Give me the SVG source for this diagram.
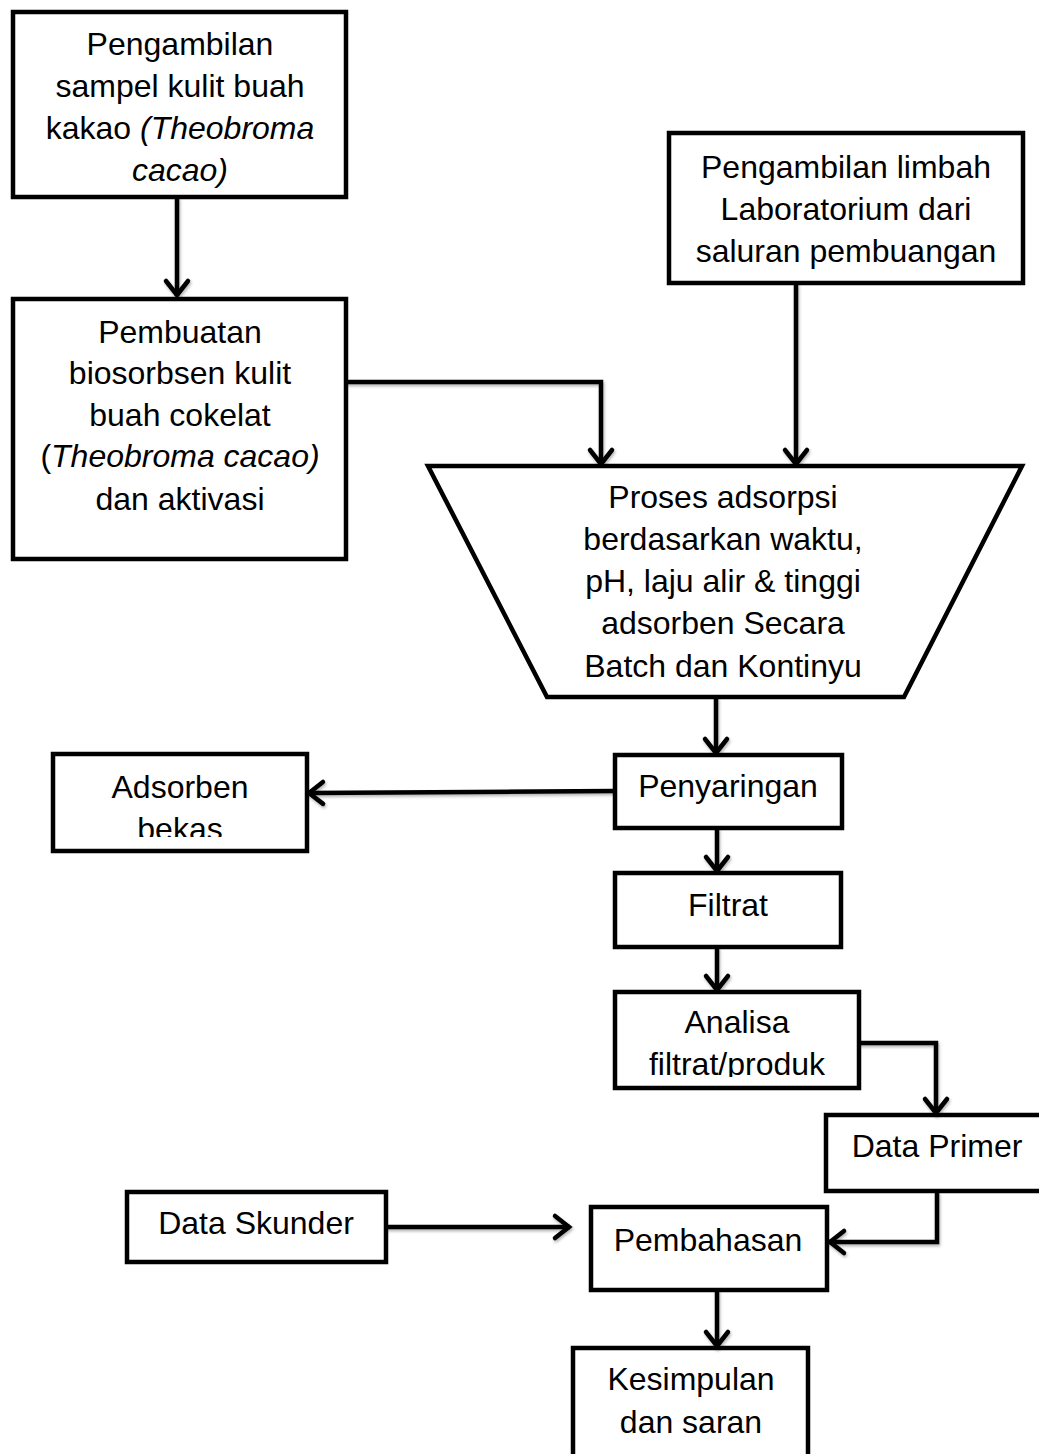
<svg xmlns="http://www.w3.org/2000/svg" width="1039" height="1454" viewBox="0 0 1039 1454">
<style>
.box{fill:#fff;stroke:#000;stroke-width:4.5;stroke-linejoin:miter}
.t{font-family:"Liberation Sans",Arial,sans-serif;font-size:32px;fill:#000;text-anchor:middle}
.i{font-style:italic}
.c{fill:none;stroke:#000;stroke-width:4.5;stroke-linejoin:miter;marker-end:url(#ah)}
.cn{fill:none;stroke:#000;stroke-width:4.5}
</style>
<defs>
<marker id="ah" markerUnits="userSpaceOnUse" viewBox="-20 -14 24 28" markerWidth="24" markerHeight="28" refX="0" refY="0" orient="auto" overflow="visible">
<path d="M-15,-11 L-1,0 L-15,11" fill="none" stroke="#000" stroke-width="4.5" stroke-linejoin="miter" stroke-linecap="round"/>
</marker>
<filter id="sh" x="-10%" y="-10%" width="130%" height="130%">
<feDropShadow dx="1" dy="2" stdDeviation="1.5" flood-color="#000" flood-opacity="0.3"/>
</filter>
<clipPath id="clipAds"><rect x="52" y="754" width="255" height="83"/></clipPath>
<clipPath id="clipAna"><rect x="615" y="992" width="244" height="85"/></clipPath>
</defs>

<g id="connectors" filter="url(#sh)">
<path class="c" d="M177,197 L177,296"/>
<path class="c" d="M346,382 L601,382 L601,465"/>
<path class="c" d="M796,283 L796,465"/>
<path class="c" d="M716,697 L716,754"/>
<path class="c" d="M615,791 L308,793"/>
<path class="c" d="M717,828 L717,872"/>
<path class="c" d="M717,947 L717,991"/>
<path class="c" d="M859,1043 L936,1043 L936,1114"/>
<path class="c" d="M937,1192 L937,1242 L829,1242"/>
<path class="c" d="M386,1227 L570,1227"/>
<path class="c" d="M717,1290 L717,1347"/>
</g>

<g id="n1">
<rect class="box" x="13" y="12" width="333" height="185"/>
<text class="t" x="180" y="55">Pengambilan</text>
<text class="t" x="180" y="97">sampel kulit buah</text>
<text class="t" x="180" y="139">kakao <tspan class="i">(Theobroma</tspan></text>
<text class="t i" x="180" y="181">cacao)</text>
</g>

<g id="n2">
<rect class="box" x="13" y="299" width="333" height="260"/>
<text class="t" x="180" y="343">Pembuatan</text>
<text class="t" x="180" y="384">biosorbsen kulit</text>
<text class="t" x="180" y="426">buah cokelat</text>
<text class="t" x="180" y="467">(<tspan class="i">Theobroma cacao)</tspan></text>
<text class="t" x="180" y="510">dan aktivasi</text>
</g>

<g id="n3">
<rect class="box" x="669" y="133" width="354" height="150"/>
<text class="t" x="846" y="178">Pengambilan limbah</text>
<text class="t" x="846" y="220">Laboratorium dari</text>
<text class="t" x="846" y="262">saluran pembuangan</text>
</g>

<g id="n4">
<polygon class="box" points="428,466 1022,466 904,697 547,697"/>
<text class="t" x="723" y="508">Proses adsorpsi</text>
<text class="t" x="723" y="550">berdasarkan waktu,</text>
<text class="t" x="723" y="592">pH, laju alir &amp; tinggi</text>
<text class="t" x="723" y="634">adsorben Secara</text>
<text class="t" x="723" y="677">Batch dan Kontinyu</text>
</g>

<g id="n5">
<rect class="box" x="615" y="755" width="227" height="73"/>
<text class="t" x="728" y="797">Penyaringan</text>
</g>

<g id="n6">
<rect class="box" x="53" y="754" width="254" height="97"/>
<g clip-path="url(#clipAds)">
<text class="t" x="180" y="798">Adsorben</text>
<text class="t" x="180" y="840">bekas</text>
</g>
</g>

<g id="n7">
<rect class="box" x="615" y="873" width="226" height="74"/>
<text class="t" x="728" y="916">Filtrat</text>
</g>

<g id="n8">
<rect class="box" x="615" y="992" width="244" height="96"/>
<g clip-path="url(#clipAna)">
<text class="t" x="737" y="1033">Analisa</text>
<text class="t" x="737" y="1075">filtrat/produk</text>
</g>
</g>

<g id="n9">
<path class="cn" d="M1045,1115 L826,1115 L826,1191 L1045,1191"/>
<text class="t" x="937" y="1157">Data Primer</text>
</g>

<g id="n10">
<rect class="box" x="127" y="1192" width="259" height="70"/>
<text class="t" x="256" y="1234">Data Skunder</text>
</g>

<g id="n11">
<rect class="box" x="591" y="1207" width="236" height="83"/>
<text class="t" x="708" y="1251">Pembahasan</text>
</g>

<g id="n12">
<path class="cn" d="M573,1460 L573,1348 L808,1348 L808,1460"/>
<text class="t" x="691" y="1390">Kesimpulan</text>
<text class="t" x="691" y="1433">dan saran</text>
</g>
</svg>
